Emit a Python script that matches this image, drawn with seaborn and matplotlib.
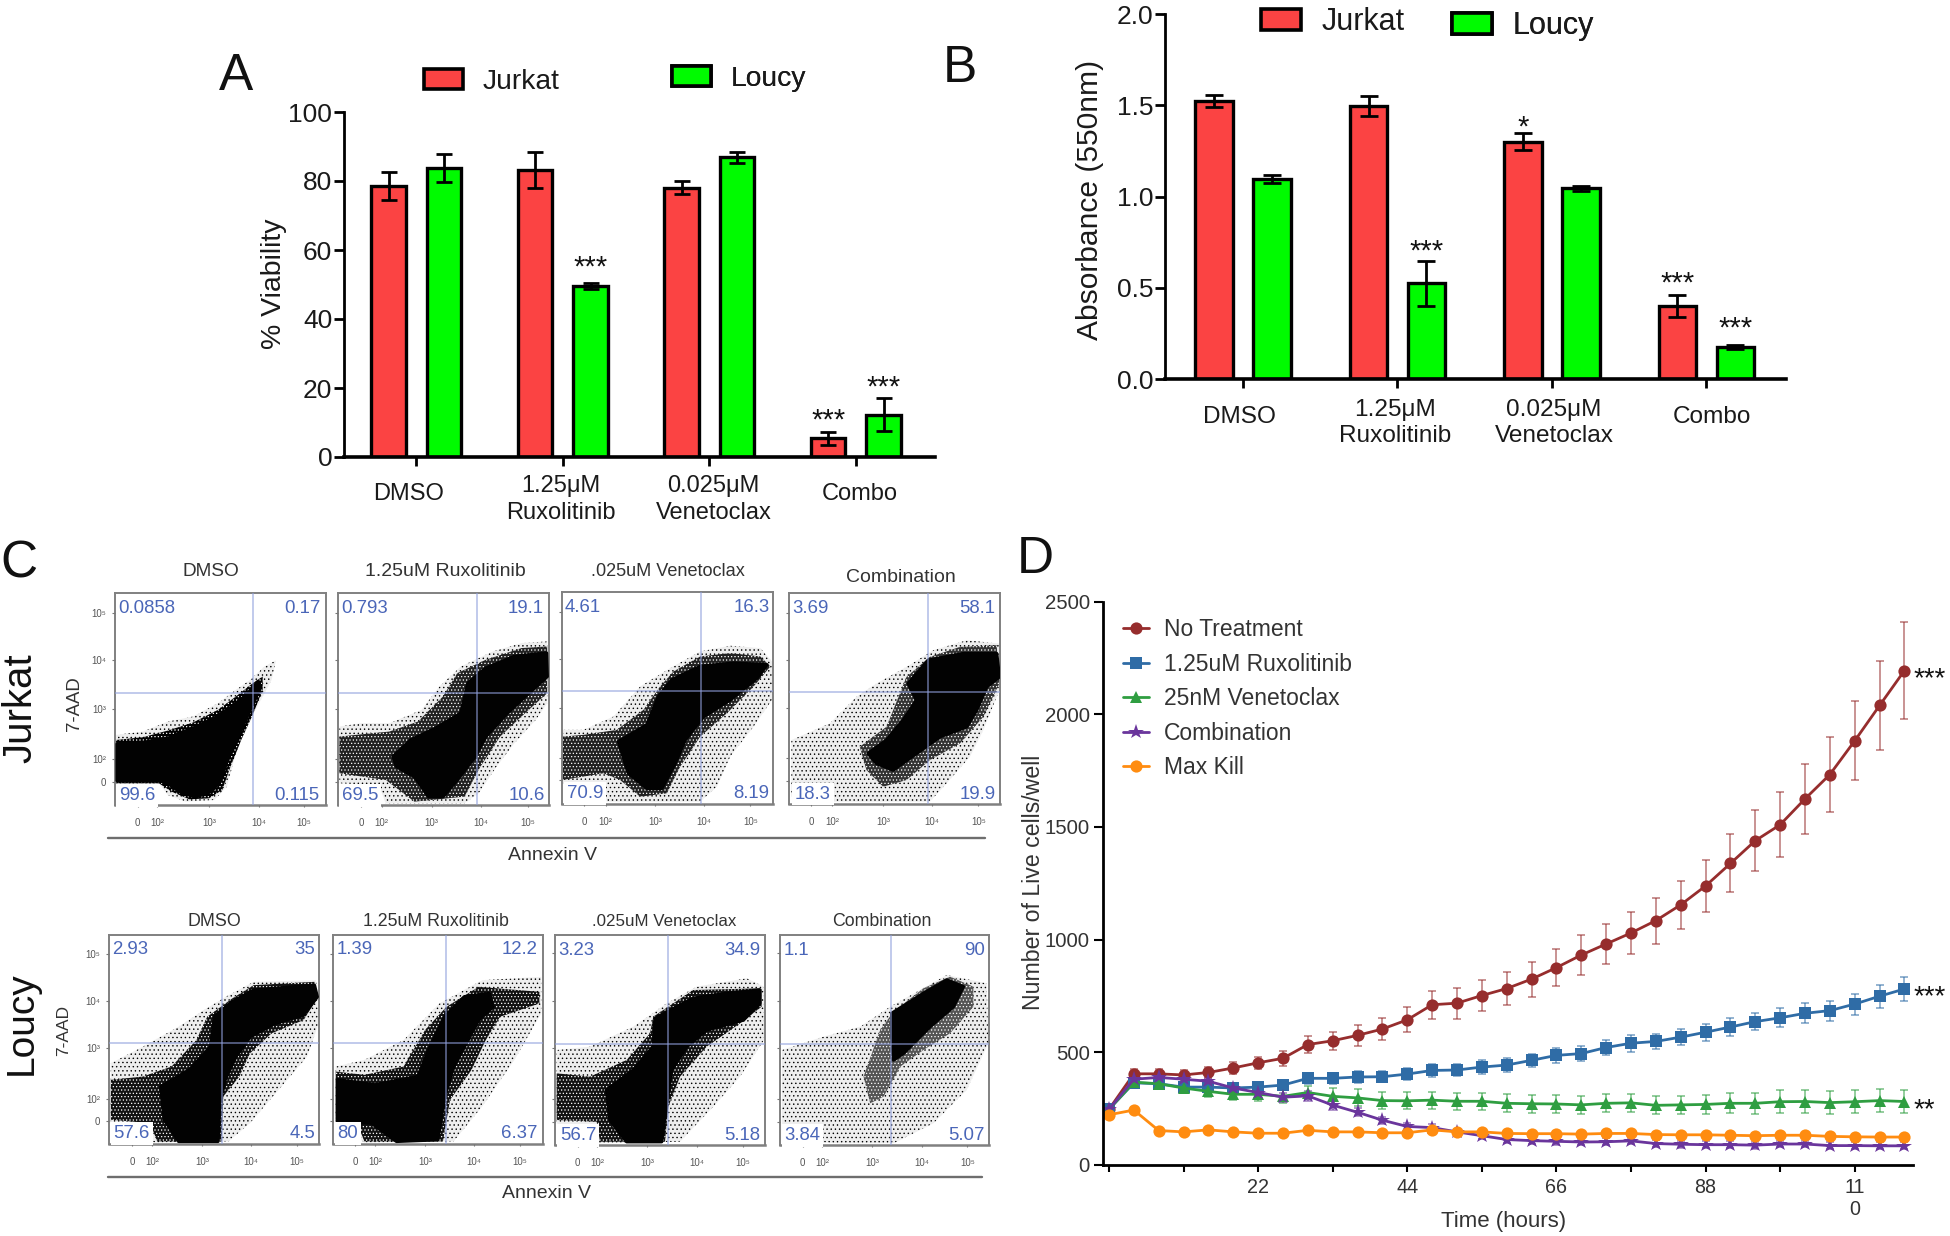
import matplotlib
matplotlib.use("Agg")
import matplotlib.pyplot as plt
from matplotlib.patches import Patch
from matplotlib.transforms import ScaledTranslation
import pandas as pd
import seaborn as sns

W, H = 1950, 1236

# ---------- Panel A / B ----------
CATEGORIES = ["DMSO", "1.25μM\nRuxolitinib", "0.025μM\nVenetoclax", "Combo"]
A_JURKAT = [78.5, 83.3, 78.0, 5.4]
A_JURKAT_ERR = [4.0, 5.2, 1.9, 1.8]
A_LOUCY = [83.7, 49.6, 86.9, 12.3]
A_LOUCY_ERR = [4.1, 0.8, 1.6, 4.9]
B_JURKAT = [1.525, 1.496, 1.30, 0.40]
B_JURKAT_ERR = [0.032, 0.056, 0.046, 0.06]
B_LOUCY = [1.097, 0.525, 1.044, 0.175]
B_LOUCY_ERR = [0.023, 0.123, 0.013, 0.01]

# ---------- Panel D ----------
TIME = [0, 3.67, 7.33, 11, 14.67, 18.33, 22, 25.67, 29.33, 33, 36.67, 40.33, 44, 47.67, 51.33, 55,
        58.67, 62.33, 66, 69.67, 73.33, 77, 80.67, 84.33, 88, 91.67, 95.33, 99, 102.67, 106.33, 110,
        113.67, 117.33]
NO_TREATMENT = [245, 403, 403, 398, 409, 429, 452, 472, 533, 550, 574, 602, 643, 710, 717, 751,
                782, 824, 875, 931, 980, 1029, 1084, 1154, 1238, 1338, 1439, 1510, 1625, 1733, 1883, 2040, 2195]
NO_TREATMENT_ERR = [10, 22, 22, 22, 25, 26, 28, 32, 39, 41, 46, 50, 56, 63, 69, 68,
                    74, 78, 82, 89, 90, 95, 102, 107, 116, 129, 135, 144, 155, 165, 176, 198, 216]
RUXOLITINIB = [245, 363, 359, 344, 344, 340, 344, 353, 383, 383, 389, 390, 402, 418, 420, 433,
               442, 463, 485, 493, 520, 539, 547, 566, 588, 611, 635, 652, 672, 684, 713, 748, 780]
RUXOLITINIB_ERR = [10, 18, 18, 20, 22, 22, 22, 22, 25, 25, 25, 25, 25, 27, 27, 30,
                   30, 30, 32, 34, 34, 37, 34, 35, 37, 39, 39, 42, 44, 44, 47, 51, 52]
VENETOCLAX = [245, 366, 359, 340, 325, 312, 312, 303, 320, 303, 296, 284, 283, 286, 281, 281,
              272, 270, 269, 265, 272, 274, 263, 265, 267, 272, 272, 279, 280, 275, 279, 284, 280]
VENETOCLAX_ERR = [10, 20, 20, 22, 25, 25, 28, 30, 30, 38, 38, 38, 38, 38, 38, 38,
                  40, 40, 40, 40, 40, 40, 40, 40, 42, 44, 46, 50, 50, 50, 50, 52, 52]
COMBINATION = [245, 379, 387, 379, 370, 340, 320, 299, 305, 264, 232, 197, 169, 164, 145, 128,
               111, 106, 103, 100, 101, 105, 93, 90, 88, 88, 86, 91, 91, 84, 84, 83, 83]
COMBINATION_ERR = [8, 15, 15, 15, 15, 15, 15, 20, 22, 20, 18, 15, 15, 15, 15, 15,
                   15, 15, 15, 15, 15, 15, 15, 15, 15, 15, 15, 15, 15, 15, 15, 15, 15]
MAX_KILL = [221, 242, 151, 145, 154, 145, 139, 139, 152, 145, 145, 141, 141, 154, 145, 145,
            138, 137, 137, 135, 138, 138, 133, 132, 132, 130, 128, 130, 130, 125, 123, 122, 122]
MAX_KILL_ERR = [12, 12, 10, 10, 10, 10, 10, 10, 10, 10, 10, 10, 10, 10, 10, 10,
                10, 10, 10, 10, 10, 10, 10, 10, 10, 10, 10, 10, 10, 10, 10, 10, 10]
D_SERIES = ["No Treatment", "1.25uM Ruxolitinib", "25nM Venetoclax", "Combination", "Max Kill"]
D_COLORS = ["#962d2d", "#2f6ca6", "#2f9e41", "#6a359c", "#ff8c10"]
D_MARKERS = ["o", "s", "^", "*", "o"]

# ---------- Panel C: percentages and cloud outlines in display channels ----------
PCT_JD = ["0.0858", "0.17", "99.6", "0.115"]
PCT_JR = ["0.793", "19.1", "69.5", "10.6"]
PCT_JV = ["4.61", "16.3", "70.9", "8.19"]
PCT_JC = ["3.69", "58.1", "18.3", "19.9"]
PCT_LD = ["2.93", "35", "57.6", "4.5"]
PCT_LR = ["1.39", "12.2", "80", "6.37"]
PCT_LV = ["3.23", "34.9", "56.7", "5.18"]
PCT_LC = ["1.1", "90", "3.84", "5.07"]

JD_CORE = [(328,612),(400,608),(470,595),(540,565),(600,535),(650,500),(690,465),(722,425),(728,445),(700,510),(670,580),(640,650),(615,725),(590,755),(550,770),(510,760),(470,730),(445,722),(328,722)]
JD_MID = [(326,600),(400,592),(470,572),(540,548),(610,510),(660,470),(705,432),(735,410),(735,450),(705,530),(675,600),(645,680),(622,750),(585,775),(530,778),(480,755),(445,730),(326,730)]
JD_HALO = [(325,585),(400,575),(470,545),(540,530),(610,490),(660,450),(700,420),(740,380),(772,362),(760,420),(730,480),(690,560),(660,640),(635,740),(600,780),(520,785),(470,765),(445,730),(325,730)]
JR_CORE = [(1100,650),(1150,600),(1220,565),(1290,520),(1310,430),(1360,385),(1440,350),(1530,340),(1532,410),(1470,470),(1420,520),(1360,590),(1330,650),(1280,720),(1240,770),(1200,770),(1160,710),(1110,680)]
JR_MID = [(950,590),(1090,575),(1170,545),(1240,470),(1280,400),(1360,360),(1460,325),(1532,320),(1532,460),(1470,520),(1400,590),(1345,680),(1300,770),(1160,785),(1080,720),(950,700)]
JR_HALO = [(950,560),(1010,550),(1090,550),(1180,510),(1230,440),(1290,380),(1380,335),(1460,310),(1532,305),(1532,490),(1500,540),(1440,610),(1390,680),(1340,760),(1300,790),(1080,790),(1060,735),(950,730)]
JV_CORE = [(235,605),(320,555),(355,470),(395,420),(480,380),(580,370),(680,375),(650,415),(570,480),(490,530),(435,600),(405,670),(365,745),(320,745),(265,700)]
JV_MID = [(68,590),(130,585),(230,570),(310,510),(360,440),(400,395),(480,350),(570,340),(660,350),(690,380),(640,440),(560,520),(480,590),(420,680),(380,760),(300,770),(240,720),(190,700),(68,720)]
JV_HALO = [(68,570),(130,570),(220,530),(300,440),(390,385),(480,335),(570,318),(660,325),(695,365),(695,480),(640,560),(570,650),(530,740),(480,785),(200,785),(190,730),(68,730)]
JC_CORE = [(985,640),(1040,600),(1090,540),(1130,480),(1105,430),(1165,360),(1270,340),(1370,340),(1378,410),(1340,440),(1310,510),(1280,560),(1200,590),(1130,640),(1060,690),(1010,670)]
JC_MID = [(960,620),(1040,560),(1080,460),(1100,410),(1170,350),(1260,320),(1370,315),(1378,430),(1330,530),(1260,610),(1170,660),(1100,720),(1030,740),(980,690)]
JC_HALO = [(755,600),(870,550),(950,470),(1010,430),(1100,380),(1180,330),(1280,300),(1378,310),(1378,450),(1330,570),(1290,650),(1220,730),(1170,785),(880,785),(755,770)]
LD_CORE = [(450,590),(530,540),(590,470),(600,380),(650,335),(710,300),(880,285),(888,320),(850,375),(770,400),(700,440),(660,500),(630,570),(615,640),(610,755),(500,755),(460,690)]
LD_MID = [(310,570),(400,560),(480,530),(550,450),(580,380),(650,325),(710,285),(880,275),(890,320),(850,390),(760,430),(700,490),(670,560),(625,620),(620,755),(440,755),(420,700),(310,690)]
LD_HALO = [(310,520),(400,470),(500,410),(570,360),(640,315),(710,275),(885,270),(892,400),(860,500),(780,600),(700,700),(640,755),(430,758),(310,700)]
LR_CORE = [(945,570),(1050,585),(1170,560),(1200,480),(1245,380),(1300,320),(1370,310),(1380,350),(1340,390),(1310,450),(1270,530),(1245,620),(1225,750),(1110,755),(1040,700),(945,695)]
LR_MID = [(940,545),(1020,555),(1130,530),(1190,420),(1250,350),(1340,290),(1510,305),(1510,340),(1400,380),(1360,450),(1320,540),(1260,630),(1240,755),(1020,755),(1000,700),(940,690)]
LR_HALO = [(940,530),(1020,510),(1130,450),(1230,340),(1350,270),(1515,260),(1515,370),(1440,510),(1350,650),(1270,755),(1020,758),(940,700)]
LV_CORE = [(200,600),(280,540),(340,470),(345,385),(460,325),(560,310),(660,300),(660,340),(610,390),(500,420),(440,470),(395,540),(380,640),(365,755),(260,755),(210,690)]
LV_MID = [(50,550),(150,560),(260,510),(330,430),(340,380),(460,300),(660,295),(665,350),(600,400),(500,470),(420,560),(385,650),(375,755),(180,755),(170,695),(50,690)]
LV_HALO = [(50,480),(150,470),(280,410),(380,340),(470,290),(620,265),(672,290),(672,450),(600,560),(520,650),(420,755),(175,760),(50,700)]
LC_CORE = [(1055,370),(1150,310),(1220,270),(1270,290),(1240,350),(1170,410),(1090,490),(1060,510),(1055,440)]
LC_MID = [(1020,420),(1060,365),(1150,295),(1230,260),(1300,290),(1300,350),(1230,430),(1150,480),(1080,530),(1030,620),(990,640),(970,560)]
LC_HALO = [(725,480),(850,440),(960,410),(1050,350),(1220,255),(1340,280),(1345,460),(1280,600),(1180,700),(1060,760),(900,760),(725,750)]

DECADE_LABELS = ["0", "10²", "10³", "10⁴", "10⁵"]
Y_DECADE_LABELS = ["10⁵", "10⁴", "10³", "10²", "0"]

sns.set_theme(style="white")
plt.rcParams["font.family"] = ["Liberation Sans", "DejaVu Sans"]
plt.rcParams["hatch.linewidth"] = 0.5

fig = plt.figure(figsize=(W / 100, H / 100), dpi=100)
fig.patch.set_facecolor("white")


def px_axes(left, top, right, bottom):
    return fig.add_axes([left / W, 1 - bottom / H, (right - left) / W, (bottom - top) / H])


def px_text(x, y, s, **kw):
    kw.setdefault("ha", "center")
    kw.setdefault("va", "center")
    return fig.text(x / W, 1 - y / H, s, **kw)


def legend_entry(ax, x, y, label, color, fs, hlen, hh, pad):
    lg = ax.legend(handles=[Patch(facecolor=color, edgecolor="black", linewidth=2.6, label=label)],
                   loc="center left", bbox_to_anchor=(x / W, 1 - y / H), bbox_transform=fig.transFigure,
                   frameon=False, fontsize=fs, handlelength=hlen, handleheight=hh, handletextpad=pad,
                   borderpad=0, borderaxespad=0)
    lg.get_texts()[0].set_color("#1a1a1a")
    ax.add_artist(lg)


def bar_panel(rect, xlim, ylim, yticks, yfmt, jurkat, jurkat_err, loucy, loucy_err, width, gap, capsize,
              stars, label_dx, label_dy, pad, spacing, tick_fs, cat_fs):
    ax = px_axes(*rect)
    df = pd.DataFrame({
        "Condition": CATEGORIES * 2,
        "Value": jurkat + loucy,
        "Line": ["Jurkat"] * 4 + ["Loucy"] * 4,
    })
    sns.barplot(data=df, x="Condition", y="Value", hue="Line", order=CATEGORIES, hue_order=["Jurkat", "Loucy"],
                palette={"Jurkat": "#fb4343", "Loucy": "#00fb00"}, saturation=1, width=width, gap=gap,
                errorbar=None, edgecolor="black", linewidth=2.4, legend=False, ax=ax)
    xs = [p.get_x() + p.get_width() / 2 for p in ax.patches]
    ax.errorbar(xs, jurkat + loucy, yerr=jurkat_err + loucy_err, fmt="none", ecolor="black",
                elinewidth=2.0, capsize=capsize, capthick=2.0, zorder=5)
    tops = [v + e for v, e in zip(jurkat + loucy, jurkat_err + loucy_err)]
    for i, s, dy in stars:
        ax.annotate(s, (xs[i], tops[i]), xytext=(0, (dy - 8) * 0.72), textcoords="offset points",
                    ha="center", va="center", fontsize=21, color="#111111", annotation_clip=False)
    ax.set_xlim(*xlim)
    ax.set_ylim(*ylim)
    ax.set_yticks(yticks)
    ax.set_yticklabels([yfmt.format(t) for t in yticks], fontsize=tick_fs, color="#1a1a1a")
    ax.set_xticks(range(4))
    ax.set_xticklabels(CATEGORIES, fontsize=cat_fs, color="#1a1a1a", linespacing=spacing)
    ax.set_xlabel("")
    ax.set_ylabel("")
    sns.despine(ax=ax)
    for sp in ("left", "bottom"):
        ax.spines[sp].set_color("black")
    ax.spines["left"].set_linewidth(2.0)
    ax.spines["bottom"].set_linewidth(2.6)
    ax.tick_params(axis="y", left=True, length=7, width=2.0, pad=1.5, color="black")
    ax.tick_params(axis="x", bottom=True, length=6.5, width=2.0, pad=pad, color="black")
    for lab, dx, dy in zip(ax.get_xticklabels(), label_dx, label_dy):
        lab.set_va("center")
        lab.set_transform(lab.get_transform() + ScaledTranslation(dx / 100, dy / 100, fig.dpi_scale_trans))
    ax.patch.set_alpha(0)
    return ax


# Panel A
axA = bar_panel((344, 112, 935, 457), (-0.4935, 3.54), (0, 100), [0, 20, 40, 60, 80, 100], "{:d}",
                A_JURKAT, A_JURKAT_ERR, A_LOUCY, A_LOUCY_ERR, 0.756, 0.378, 5.8,
                [(5, "***", 24), (3, "***", 20), (7, "***", 18)], [-8, -2, 4, 4], [0, -5, -5, 0], 20.5, 1.33, 19, 17)
px_text(274, 284, "% Viability", rotation=90, fontsize=20.5, color="#1a1a1a")
legend_entry(axA, 424, 82, "Jurkat", "#fb4343", 20.3, 1.37, 0.72, 0.72)
legend_entry(axA, 672, 79, "Loucy", "#00fb00", 20.3, 1.37, 0.72, 0.72)
px_text(236, 77, "A", fontsize=37, color="#111111")

# Panel B
axB = bar_panel((1165, 14, 1786, 379), (-0.505, 3.515), (0, 2.0), [0, 0.5, 1.0, 1.5, 2.0], "{:.1f}",
                B_JURKAT, B_JURKAT_ERR, B_LOUCY, B_LOUCY_ERR, 0.75, 0.352, 6.6,
                [(2, "*", 14), (5, "***", 17), (3, "***", 19), (7, "***", 25)], [-4, -2, 2, 5], [0, -6, -6, 0],
                21, 1.27, 19, 17.6)
px_text(1090, 200, "Absorbance (550nm)", rotation=90, fontsize=21.6, color="#1a1a1a")
legend_entry(axB, 1261, 22, "Jurkat", "#fb4343", 22, 1.3, 0.68, 0.68)
legend_entry(axB, 1452, 26, "Loucy", "#00fb00", 22, 1.3, 0.68, 0.68)
px_text(960, 68, "B", fontsize=37, color="#111111")


# Panel C
def flow_panel(rect, xlim, ylim, halo, mid, core, vline, hline, pcts, pct_xy, xt, yt, title, title_xy, title_fs, ylab,
               mid_face="#000000"):
    ax = px_axes(*rect)
    ax.set_xlim(*xlim)
    ax.set_ylim(*ylim)
    hx, hy = zip(*halo)
    ax.fill(hx, hy, facecolor="#eeeeee", edgecolor="#000000", hatch="....", linewidth=0, zorder=1)
    mx, my = zip(*mid)
    ax.fill(mx, my, facecolor=mid_face, edgecolor="#ffffff", hatch=".....", linewidth=0, zorder=2)
    cx, cy = zip(*core)
    ax.fill(cx, cy, facecolor="#020202", edgecolor="#020202", linewidth=2.5, joinstyle="round", zorder=3)
    ax.axvline(vline, color="#8f9fdc", lw=1.1, alpha=0.7, zorder=4)
    ax.axhline(hline, color="#8f9fdc", lw=1.1, alpha=0.7, zorder=4)
    for i, (s, (x, y)) in enumerate(zip(pcts, pct_xy)):
        kw = dict(color="#4a66b8", fontsize=13.4, va="center", ha="right" if i % 2 else "left", zorder=6)
        if i == 2:
            kw["bbox"] = dict(facecolor="white", edgecolor="none", pad=2)
        ax.text(x, y, s, **kw)
    ax.set_xticks(xt)
    ax.set_xticklabels(DECADE_LABELS, fontsize=7, color="#555555")
    ax.set_yticks(yt)
    ax.set_yticklabels(Y_DECADE_LABELS if ylab else [], fontsize=7, color="#555555")
    ax.tick_params(axis="x", bottom=True, length=1.5, width=0.8, pad=8, color="#777777")
    ax.tick_params(axis="y", left=True, length=2.5, width=0.8, pad=4, color="#777777")
    for sp in ax.spines.values():
        sp.set_visible(True)
        sp.set_color("#808080")
        sp.set_linewidth(1.4)
    ax.spines["bottom"].set_linewidth(1.8)
    ax.set_axisbelow(False)
    px_text(*title_xy, title, fontsize=title_fs, color="#333333")
    return ax


J_TITLES = ["DMSO", "1.25uM Ruxolitinib", ".025uM Venetoclax", "Combination"]
flow_panel((115, 593, 326, 805), (322, 912), (795, 160), JD_HALO, JD_MID, JD_CORE, 708, 459, PCT_JD,
           [(330, 207), (898, 207), (333, 767), (893, 767)], [385, 440, 585, 725, 850], [220, 362, 507, 658, 725],
           J_TITLES[0], (211, 572), 13.7, True)
flow_panel((338, 593, 549, 805), (946, 1537), (795, 160), JR_HALO, JR_MID, JR_CORE, 1334, 459, PCT_JR,
           [(955, 207), (1522, 207), (958, 767), (1525, 767)], [1010, 1068, 1208, 1347, 1477], [220, 362, 507, 658, 725],
           J_TITLES[1], (445, 572), 14, False, mid_face="#222222")
flow_panel((562, 592, 773, 804), (66, 698), (792, 157), JV_HALO, JV_MID, JV_CORE, 482, 455, PCT_JV,
           [(75, 203), (688, 203), (80, 760), (688, 760)], [133, 197, 345, 490, 630], [218, 358, 503, 655, 720],
           J_TITLES[2], (668, 572), 13.1, False, mid_face="#222222")
flow_panel((789, 593, 1000, 804), (748, 1380), (792, 158), JC_HALO, JC_MID, JC_CORE, 1165, 456, PCT_JC,
           [(758, 205), (1365, 205), (766, 762), (1367, 762)], [815, 877, 1030, 1177, 1315], [218, 358, 503, 655, 722],
           J_TITLES[3], (901, 577), 14, False, mid_face="#333333")
flow_panel((109, 935, 319, 1144), (305, 893), (763, 134), LD_HALO, LD_MID, LD_CORE, 622, 458, PCT_LD,
           [(315, 178), (882, 178), (318, 732), (882, 732)], [370, 425, 565, 702, 830], [190, 332, 475, 628, 695],
           J_TITLES[0], (214, 921), 12.9, True, mid_face="#111111")
flow_panel((332.5, 935, 543, 1144), (931, 1520), (763, 134), LR_HALO, LR_MID, LR_CORE, 1248, 458, PCT_LR,
           [(943, 178), (1505, 178), (945, 732), (1505, 732)], [995, 1050, 1190, 1327, 1456], [190, 332, 475, 628, 695],
           J_TITLES[1], (436, 921), 12.8, False, mid_face="#111111")
flow_panel((555, 935, 765, 1145), (45, 675), (765, 135), LV_HALO, LV_MID, LV_CORE, 384, 462, PCT_LV,
           [(55, 182), (660, 182), (60, 737), (660, 737)], [113, 172, 322, 470, 608], [190, 332, 475, 628, 695],
           J_TITLES[2], (664, 921), 12.2, False, mid_face="#111111")
flow_panel((780, 935, 989, 1145), (719, 1347), (765, 135), LC_HALO, LC_MID, LC_CORE, 1054, 462, PCT_LC,
           [(730, 182), (1335, 182), (733, 737), (1333, 737)], [787, 845, 995, 1145, 1282], [190, 332, 475, 628, 695],
           J_TITLES[3], (882, 921), 12.8, False, mid_face="#555555")

for x0, x1, y, lx, ly in [(108, 985, 838, 553, 855), (108, 982, 1177, 547, 1193)]:
    fig.add_artist(plt.Line2D([x0 / W, x1 / W], [1 - y / H, 1 - y / H], color="#6e6e6e", lw=1.7))
    px_text(lx, ly, "Annexin V", fontsize=14, color="#333333")
px_text(74, 704, "7-AAD", rotation=90, fontsize=13.4, color="#333333")
px_text(64, 1030, "7-AAD", rotation=90, fontsize=12.5, color="#333333")
px_text(20, 708, "Jurkat", rotation=90, fontsize=29, color="#111111")
px_text(22, 1023, "Loucy", rotation=90, fontsize=28, color="#111111")
px_text(19, 564, "C", fontsize=37, color="#111111")

# Panel D
axD = px_axes(1103, 602, 1913, 1164.5)
long_df = pd.DataFrame({
    "Time": TIME * 5,
    "Cells": NO_TREATMENT + RUXOLITINIB + VENETOCLAX + COMBINATION + MAX_KILL,
    "Series": sum([[s] * len(TIME) for s in D_SERIES], []),
})
all_err = [NO_TREATMENT_ERR, RUXOLITINIB_ERR, VENETOCLAX_ERR, COMBINATION_ERR, MAX_KILL_ERR]
all_val = [NO_TREATMENT, RUXOLITINIB, VENETOCLAX, COMBINATION, MAX_KILL]
for v, e, c in zip(all_val, all_err, D_COLORS):
    axD.errorbar(TIME, v, yerr=e, fmt="none", ecolor=c, alpha=0.6, elinewidth=1.2, capsize=3.0, capthick=1.2, zorder=1)
sns.lineplot(data=long_df, x="Time", y="Cells", hue="Series", style="Series", hue_order=D_SERIES, style_order=D_SERIES,
             palette=dict(zip(D_SERIES, D_COLORS)), markers=dict(zip(D_SERIES, D_MARKERS)), dashes=False,
             errorbar=None, linewidth=2.0, markersize=8.8, markeredgewidth=0, ax=axD)
axD.set_xlim(-0.88, 118.6)
axD.set_ylim(0, 2500)
axD.set_yticks([0, 500, 1000, 1500, 2000, 2500])
axD.set_yticklabels(["0", "500", "1000", "1500", "2000", "2500"], fontsize=14.7, color="#333333")
axD.set_xticks([0, 11, 22, 33, 44, 55, 66, 77, 88, 99, 110])
axD.set_xticklabels(["", "", "22", "", "44", "", "66", "", "88", "", "11\n0"], fontsize=14.2, color="#333333")
axD.set_xlabel("")
axD.set_ylabel("")
sns.despine(ax=axD)
axD.spines["left"].set_color("black")
axD.spines["bottom"].set_color("black")
axD.spines["left"].set_linewidth(2.0)
axD.spines["bottom"].set_linewidth(2.0)
axD.tick_params(axis="y", left=True, length=6.5, width=1.5, pad=3, color="black")
axD.tick_params(axis="x", bottom=True, length=5, width=1.5, pad=5, color="black")
h, l = axD.get_legend_handles_labels()
for line in list(axD.get_lines()) + list(h):
    if line.get_marker() == "*":
        line.set_markersize(11.5)
lgD = axD.legend(h, l, loc="upper left", bbox_to_anchor=(1123 / W, 1 - 618.5 / H), bbox_transform=fig.transFigure,
                 frameon=False, fontsize=16.5, handlelength=1.13, handletextpad=0.65, labelspacing=0.5,
                 borderpad=0, borderaxespad=0, labelcolor="#333333")
for x_lab, y_val, s in [(117.33, NO_TREATMENT[-1], "***"), (117.33, RUXOLITINIB[-1], "***"), (117.33, VENETOCLAX[-1], "**")]:
    axD.annotate(s, (x_lab, y_val), xytext=(6.5, -6), textcoords="offset points", ha="left", va="center",
                 fontsize=20, color="#111111", annotation_clip=False)
px_text(1033, 882, "Number of Live cells/well", rotation=90, fontsize=16.7, color="#333333")
px_text(1504, 1221, "Time (hours)", fontsize=16, color="#333333")
px_text(1035, 560, "D", fontsize=37, color="#111111")

fig.savefig("out.png", dpi=100)
